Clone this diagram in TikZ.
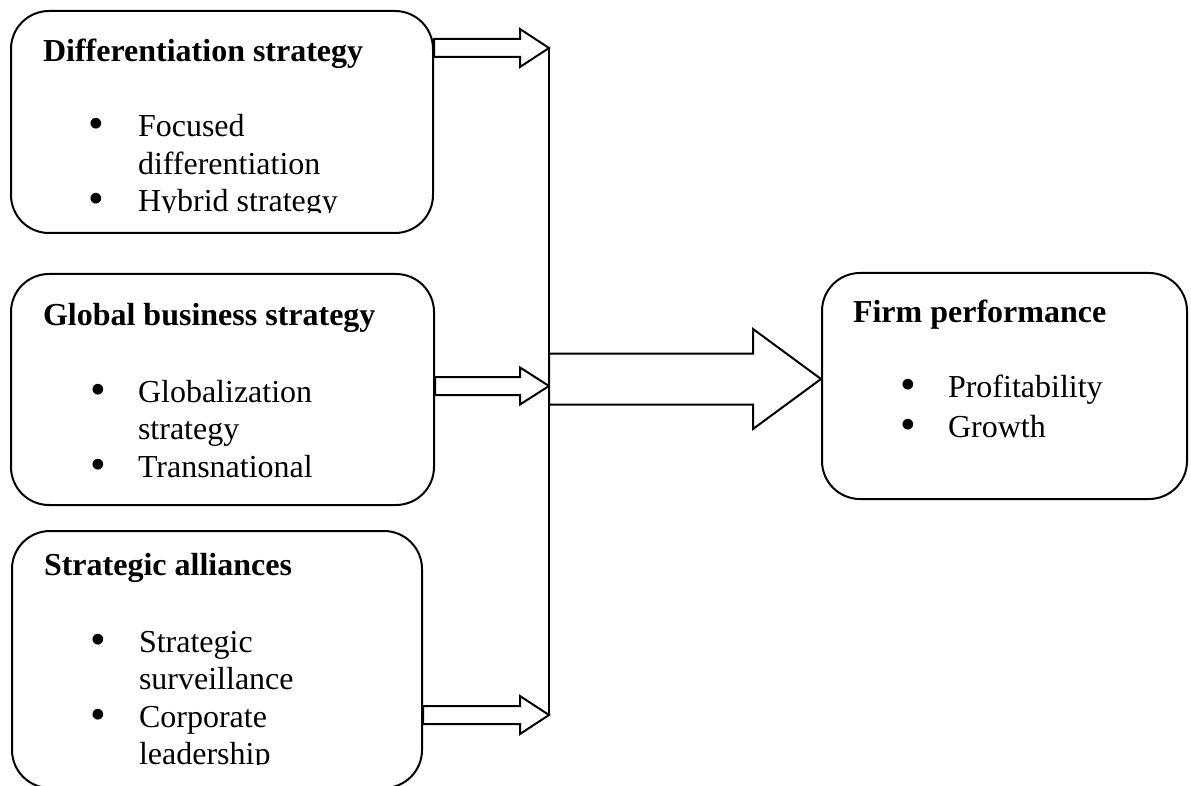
\documentclass[tikz,border=0pt]{standalone}
\usepackage{fontspec}
\setmainfont{Liberation Serif}
\usetikzlibrary{calc}
\newcommand{\itemdot}{\hspace*{-2pt}\raisebox{-2pt}{\scalebox{1.4}{\textbullet}}}

\begin{document}
\begin{tikzpicture}[x=1pt, y=-1pt, line width=2pt,
    box/.style={draw, rounded corners=38pt, inner sep=0pt, anchor=north west},
    head/.style={anchor=base west, inner sep=0pt, font=\fontsize{32}{37.5}\selectfont\bfseries},
    items/.style={anchor=base west, inner sep=0pt, font=\fontsize{32}{37.5}\selectfont},
    blockarrow/.style={draw, fill=white, line join=miter}]
    \useasboundingbox (0,0) rectangle (1191,786);

    % Strategy boxes
    \node[box, minimum width=422pt, minimum height=222pt] (diff) at (10,10) {};
    \node[head] (diffhead) at (42,62) {Differentiation strategy};
    \begin{scope}
        \clip (0,0) rectangle (1191,213);
        \node[items] (difflist) at (89.5,137) {\begin{tabular}[t]{@{}p{47.5pt}@{}l@{}}
            \itemdot & Focused\\
                     & differentiation\\
            \itemdot & Hybrid strategy
        \end{tabular}};
    \end{scope}

    \node[box, minimum width=423pt, minimum height=231pt] (global) at (10,273) {};
    \node[head] (globalhead) at (42,325) {Global business strategy};
    \node[items] (globallist) at (91.5,402) {\begin{tabular}[t]{@{}p{45.5pt}@{}l@{}}
        \itemdot & Globalization\\
                 & strategy\\
        \itemdot & Transnational
    \end{tabular}};

    \node[box, minimum width=410pt, minimum height=257pt] (alliance) at (11,530) {};
    \node[head] (alliancehead) at (43,575) {Strategic alliances};
    \begin{scope}
        \clip (0,0) rectangle (1191,764);
        \node[items] (alliancelist) at (91.5,652) {\begin{tabular}[t]{@{}p{46.5pt}@{}l@{}}
            \itemdot & Strategic\\
                     & surveillance\\
            \itemdot & Corporate\\
                     & leadership
        \end{tabular}};
    \end{scope}

    % Outcome box
    \node[box, minimum width=365pt, minimum height=226pt] (firm) at (821,272) {};
    \node[head] (firmhead) at (852,323) {Firm performance};
    \node[items] (firmlist) at (901.5,397) {\begin{tabular}[t]{@{}p{45.5pt}@{}l@{}}
        \itemdot & Profitability\\[2.5pt]
        \itemdot & Growth
    \end{tabular}};

    % Collecting bar
    \coordinate (tipdiff) at (549,48);
    \coordinate (tipglobal) at (549,386);
    \coordinate (tipalliance) at (549,715);
    \coordinate (hub) at (549,379);
    \draw (tipdiff) -- (tipalliance);

    % Arrows
    \draw[blockarrow] (diff.east |- tipdiff) ++(0,-9) -- ($(tipdiff)+(-29,-9)$) -- ++(0,-10) -- (tipdiff)
        -- ($(tipdiff)+(-29,19)$) -- ++(0,-10) -- ($(diff.east |- tipdiff)+(0,9)$) -- cycle;
    \draw[blockarrow] (global.east |- tipglobal) ++(0,-9) -- ($(tipglobal)+(-29,-9)$) -- ++(0,-9.5) -- (tipglobal)
        -- ($(tipglobal)+(-29,18.5)$) -- ++(0,-9.5) -- ($(global.east |- tipglobal)+(0,9)$) -- cycle;
    \draw[blockarrow] (alliance.east |- tipalliance) ++(0,-9) -- ($(tipalliance)+(-29,-9)$) -- ++(0,-10) -- (tipalliance)
        -- ($(tipalliance)+(-29,19)$) -- ++(0,-10) -- ($(alliance.east |- tipalliance)+(0,9)$) -- cycle;
    \draw[blockarrow] (hub) ++(0,-25.5) -- ($(hub -| firm.west)+(-68,-25.5)$) -- ++(0,-24.5) -- (hub -| firm.west)
        -- ($(hub -| firm.west)+(-68,50)$) -- ++(0,-24.5) -- ($(hub)+(0,25.5)$) -- cycle;
\end{tikzpicture}
\end{document}
